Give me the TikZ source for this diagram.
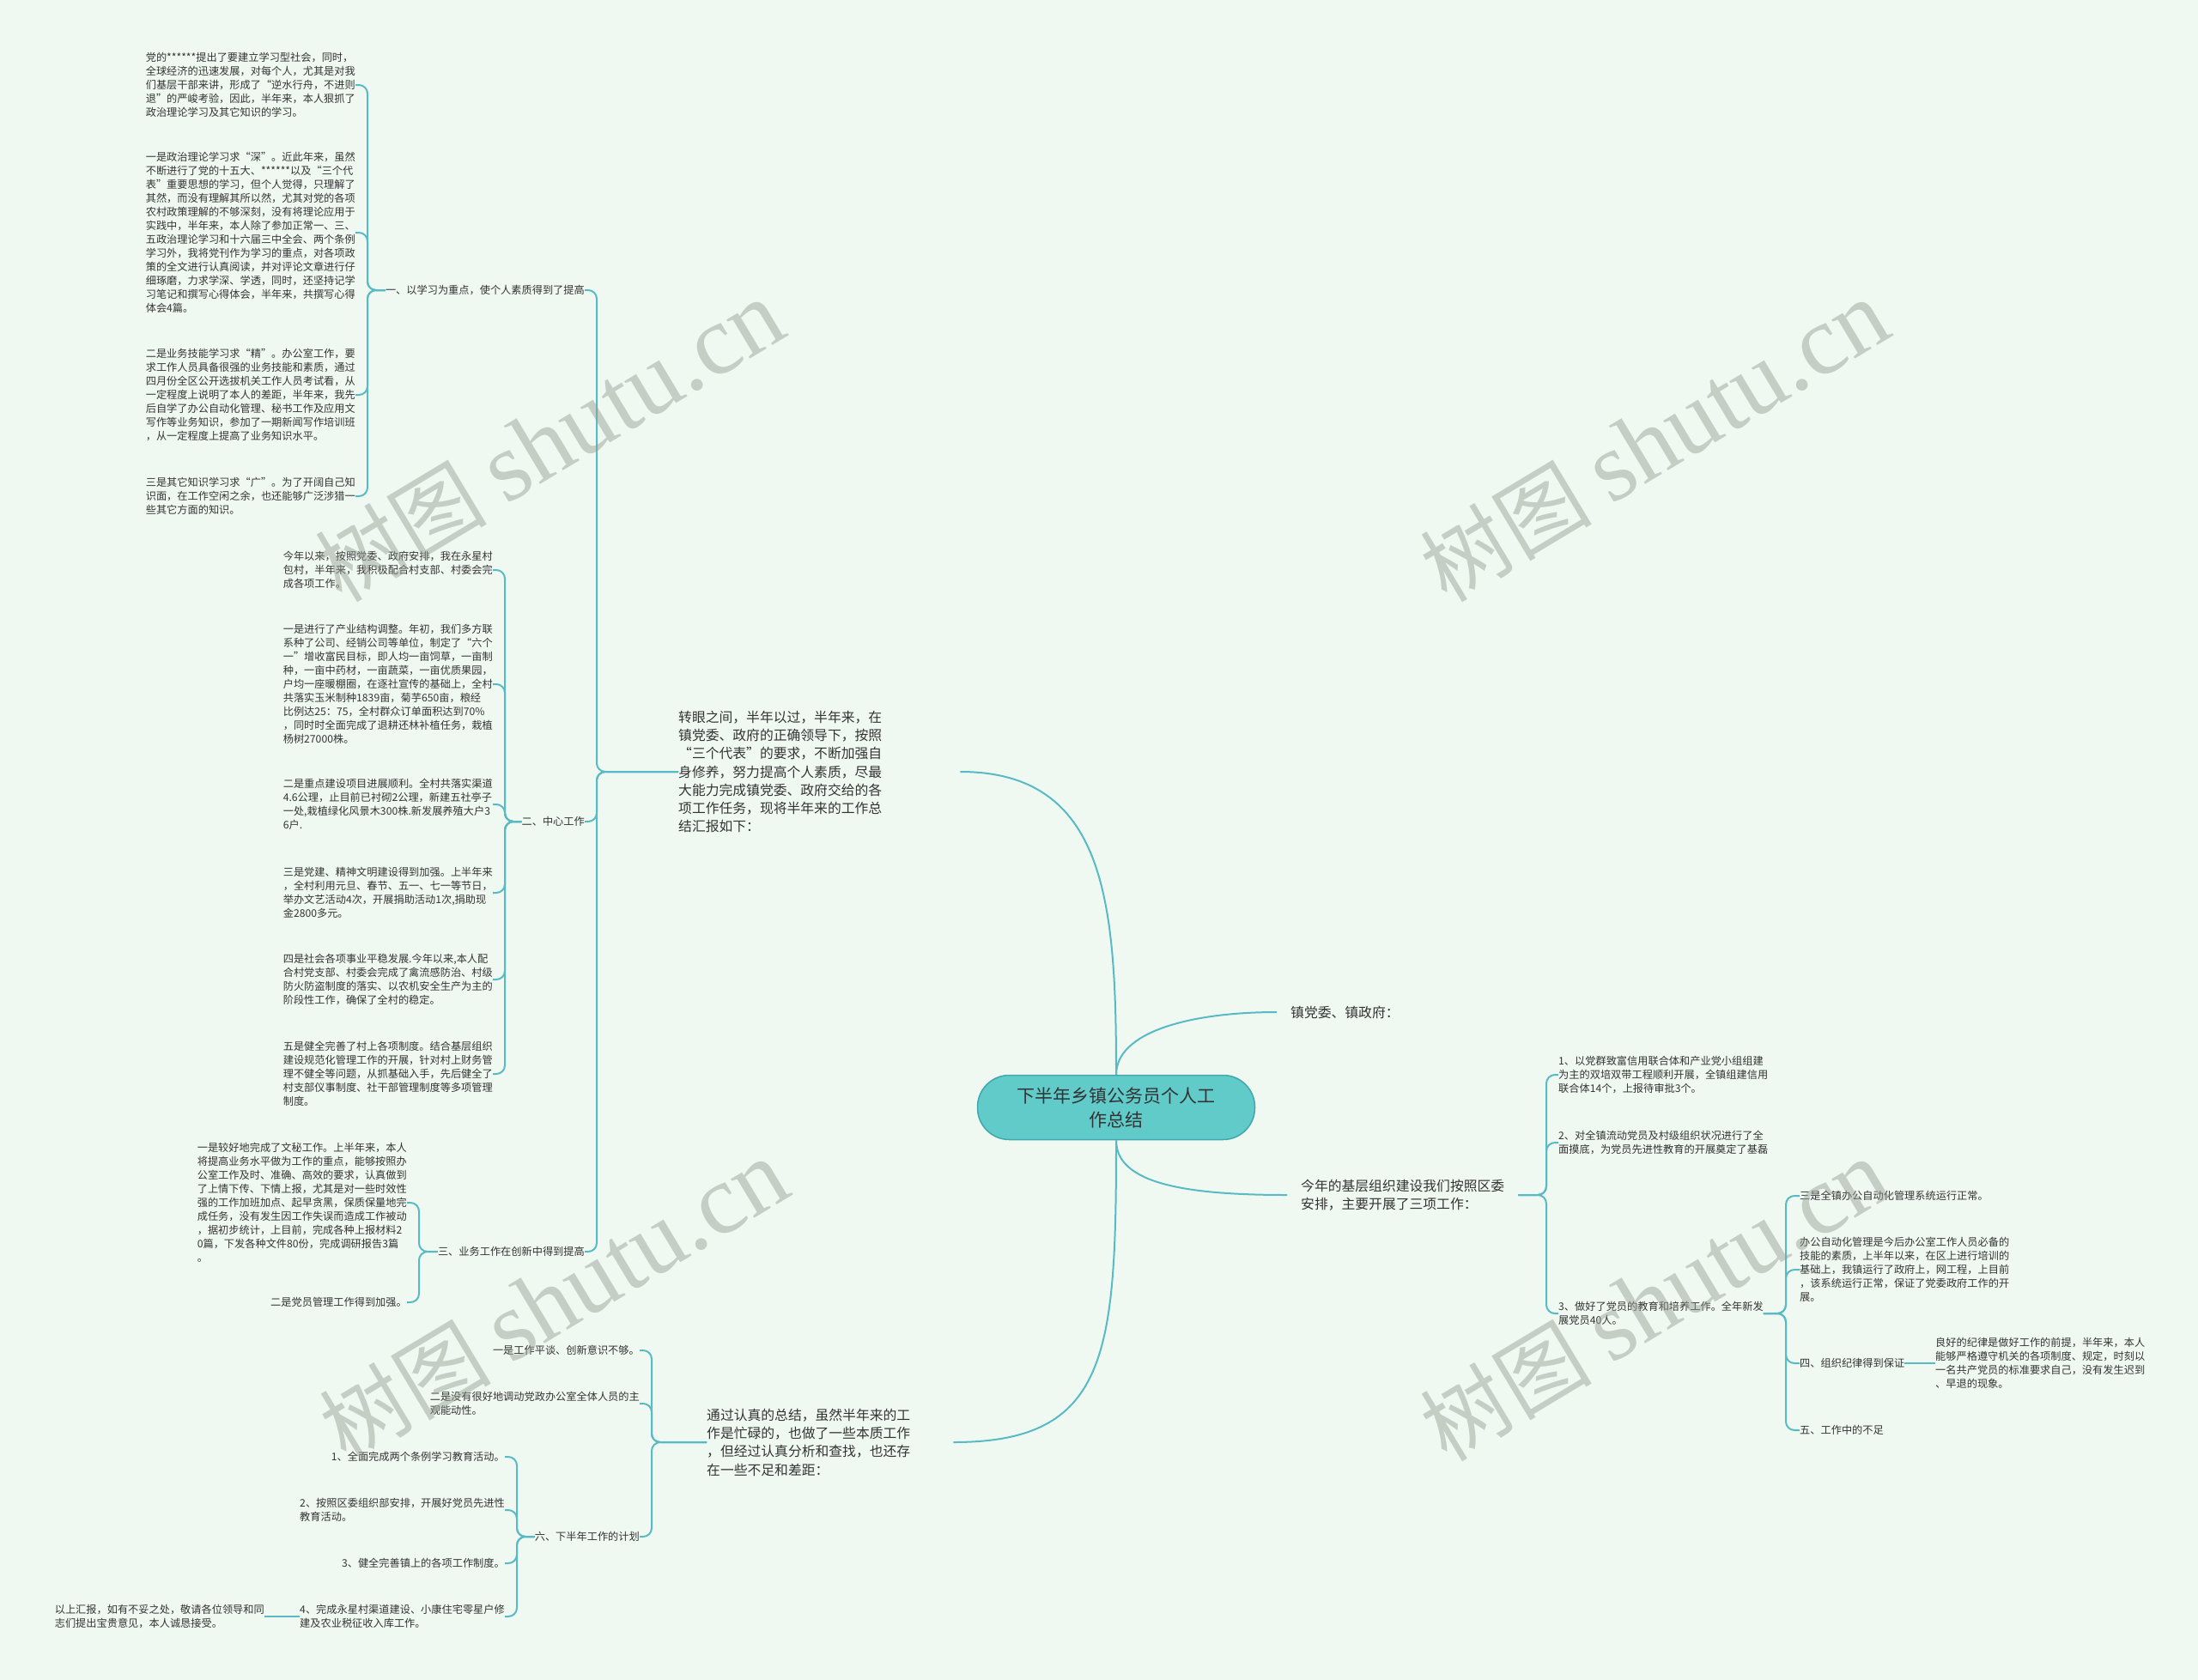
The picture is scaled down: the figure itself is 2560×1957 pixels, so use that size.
\documentclass[tikz,border=0pt]{standalone}
\usepackage{fontspec}
\setmainfont{Noto Sans CJK SC}
\newfontfamily\wmlatin{Liberation Serif}
\definecolor{bgc}{RGB}{240,249,241}
\definecolor{linkc}{RGB}{88,186,196}
\definecolor{txtc}{RGB}{51,51,51}
\definecolor{rootfill}{RGB}{97,203,202}
\definecolor{rootline}{RGB}{64,168,172}
\definecolor{wmc}{RGB}{150,160,150}

\begin{document}
\begin{tikzpicture}[x=1pt,y=-1pt,
	link/.style={draw=linkc,line width=2pt,rounded corners=10pt},
	leaf/.style={font=\fontsize{12.2}{16}\selectfont,text=txtc,inner sep=0pt,align=left},
	branch/.style={font=\fontsize{15.8}{21.3}\selectfont,text=txtc,inner sep=0pt,align=left},
	rootbox/.style={fill=rootfill,draw=rootline,line width=1.5pt,rounded corners=37pt,
		minimum width=323pt,minimum height=75pt,align=center,text=txtc,
		font=\fontsize{21}{28}\selectfont},
	wmark/.style={text=wmc,text opacity=0.48,rotate=31,inner sep=0pt}]

\fill[bgc] (0,0) rectangle (2560,1957);
\useasboundingbox (0,0) rectangle (2560,1957);

% centre
\node[rootbox] (root) at (1300,1290) {下半年乡镇公务员个人工\\作总结};

% main branches
\node[branch,anchor=west,text width=328pt] (intro) at (790,899) {转眼之间，半年以过，半年来，在\\镇党委、政府的正确领导下，按照\\“三个代表”的要求，不断加强自\\身修养，努力提高个人素质，尽最\\大能力完成镇党委、政府交给的各\\项工作任务，现将半年来的工作总\\结汇报如下：};
\node[branch,anchor=west,text width=287pt] (summ) at (823,1680) {通过认真的总结，虽然半年来的工\\作是忙碌的，也做了一些本质工作\\，但经过认真分析和查找，也还存\\在一些不足和差距：};
\node[branch,anchor=west,inner xsep=16pt] (zdw) at (1487,1179) {镇党委、镇政府：};
\node[branch,anchor=west,inner xsep=16pt] (jc) at (1499,1392) {今年的基层组织建设我们按照区委\\安排，主要开展了三项工作：};

\draw[link] (root.north) .. controls +(0,-200) and +(170,0) .. (intro.east);
\draw[link] (root.north) .. controls +(0,-50) and +(-100,0) .. (zdw.west);
\draw[link] (root.south) .. controls +(0,50) and +(-120,0) .. (jc.west);
\draw[link] (root.south) .. controls +(0,250) and +(180,0) .. (summ.east);

% left upper part
\node[leaf,anchor=east] (e1) at (681,338) {一、以学习为重点，使个人素质得到了提高};
\node[leaf,anchor=east] (e2) at (681,957) {二、中心工作};
\node[leaf,anchor=east] (e3) at (681,1458) {三、业务工作在创新中得到提高};

\node[leaf,anchor=east] (f1) at (414,99) {党的******提出了要建立学习型社会，同时，\\全球经济的迅速发展，对每个人，尤其是对我\\们基层干部来讲，形成了“逆水行舟，不进则\\退”的严峻考验，因此，半年来，本人狠抓了\\政治理论学习及其它知识的学习。};
\node[leaf,anchor=east] (f2) at (414,271) {一是政治理论学习求“深”。近此年来，虽然\\不断进行了党的十五大、******以及“三个代\\表”重要思想的学习，但个人觉得，只理解了\\其然，而没有理解其所以然，尤其对党的各项\\农村政策理解的不够深刻，没有将理论应用于\\实践中，半年来，本人除了参加正常一、三、\\五政治理论学习和十六届三中全会、两个条例\\学习外，我将党刊作为学习的重点，对各项政\\策的全文进行认真阅读，并对评论文章进行仔\\细琢磨，力求学深、学透，同时，还坚持记学\\习笔记和撰写心得体会，半年来，共撰写心得\\体会4篇。};
\node[leaf,anchor=east] (f3) at (414,460) {二是业务技能学习求“精”。办公室工作，要\\求工作人员具备很强的业务技能和素质，通过\\四月份全区公开选拔机关工作人员考试看，从\\一定程度上说明了本人的差距，半年来，我先\\后自学了办公自动化管理、秘书工作及应用文\\写作等业务知识，参加了一期新闻写作培训班\\，从一定程度上提高了业务知识水平。};
\node[leaf,anchor=east] (f4) at (414,578) {三是其它知识学习求“广”。为了开阔自己知\\识面，在工作空闲之余，也还能够广泛涉猎一\\些其它方面的知识。};

\node[leaf,anchor=east] (g1) at (574,664) {今年以来，按照党委、政府安排，我在永星村\\包村，半年来，我积极配合村支部、村委会完\\成各项工作。};
\node[leaf,anchor=east] (g2) at (574,797) {一是进行了产业结构调整。年初，我们多方联\\系种了公司、经销公司等单位，制定了“六个\\一”增收富民目标，即人均一亩饲草，一亩制\\种，一亩中药材，一亩蔬菜，一亩优质果园，\\户均一座暖棚圈，在逐社宣传的基础上，全村\\共落实玉米制种1839亩，菊芋650亩，粮经\\比例达25：75，全村群众订单面积达到70\%\\，同时时全面完成了退耕还林补植任务，栽植\\杨树27000株。};
\node[leaf,anchor=east] (g3) at (574,937) {二是重点建设项目进展顺利。全村共落实渠道\\4.6公理，止目前已衬砌2公理，新建五社亭子\\一处,栽植绿化风景木300株.新发展养殖大户3\\6户.};
\node[leaf,anchor=east] (g4) at (574,1040) {三是党建、精神文明建设得到加强。上半年来\\，全村利用元旦、春节、五一、七一等节日，\\举办文艺活动4次，开展捐助活动1次,捐助现\\金2800多元。};
\node[leaf,anchor=east] (g5) at (574,1141) {四是社会各项事业平稳发展.今年以来,本人配\\合村党支部、村委会完成了禽流感防治、村级\\防火防盗制度的落实、以农机安全生产为主的\\阶段性工作，确保了全村的稳定。};
\node[leaf,anchor=east] (g6) at (574,1251) {五是健全完善了村上各项制度。结合基层组织\\建设规范化管理工作的开展，针对村上财务管\\理不健全等问题，从抓基础入手，先后健全了\\村支部仪事制度、社干部管理制度等多项管理\\制度。};

\node[leaf,anchor=east] (h1) at (474,1401) {一是较好地完成了文秘工作。上半年来，本人\\将提高业务水平做为工作的重点，能够按照办\\公室工作及时、准确、高效的要求，认真做到\\了上情下传、下情上报，尤其是对一些时效性\\强的工作加班加点、起早贪黑，保质保量地完\\成任务，没有发生因工作失误而造成工作被动\\，据初步统计，上目前，完成各种上报材料2\\0篇，下发各种文件80份，完成调研报告3篇\\。};
\node[leaf,anchor=east] (h2) at (474,1517) {二是党员管理工作得到加强。};

\foreach \c in {e1,e2,e3}
	\draw[link] (intro.west) -| ([xshift=14pt]\c.east) -- (\c.east);
\foreach \c in {f1,f2,f3,f4}
	\draw[link] (e1.west) -| ([xshift=14pt]\c.east) -- (\c.east);
\foreach \c in {g1,g2,g3,g4,g5,g6}
	\draw[link] (e2.west) -| ([xshift=14pt]\c.east) -- (\c.east);
\foreach \c in {h1,h2}
	\draw[link] (e3.west) -| ([xshift=14pt]\c.east) -- (\c.east);

% left lower part
\node[leaf,anchor=east] (i1) at (745,1573) {一是工作平谈、创新意识不够。};
\node[leaf,anchor=east] (i2) at (745,1635) {二是没有很好地调动党政办公室全体人员的主\\观能动性。};
\node[leaf,anchor=east] (i3) at (745,1790) {六、下半年工作的计划};

\node[leaf,anchor=east] (j1) at (588,1697) {1、全面完成两个条例学习教育活动。};
\node[leaf,anchor=east] (j2) at (588,1759) {2、按照区委组织部安排，开展好党员先进性\\教育活动。};
\node[leaf,anchor=east] (j3) at (588,1821) {3、健全完善镇上的各项工作制度。};
\node[leaf,anchor=east] (j4) at (588,1883) {4、完成永星村渠道建设、小康住宅零星户修\\建及农业税征收入库工作。};
\node[leaf,anchor=east] (j4c) at (308,1883) {以上汇报，如有不妥之处，敬请各位领导和同\\志们提出宝贵意见，本人诚恳接受。};

\foreach \c in {i1,i2,i3}
	\draw[link] (summ.west) -| ([xshift=14pt]\c.east) -- (\c.east);
\foreach \c in {j1,j2,j3,j4}
	\draw[link] (i3.west) -| ([xshift=14pt]\c.east) -- (\c.east);
\draw[link] (j4.west) -- (j4c.east);

% right part
\node[leaf,anchor=west] (c1) at (1815,1252) {1、以党群致富信用联合体和产业党小组组建\\为主的双培双带工程顺利开展，全镇组建信用\\联合体14个，上报待审批3个。};
\node[leaf,anchor=west] (c2) at (1815,1331) {2、对全镇流动党员及村级组织状况进行了全\\面摸底，为党员先进性教育的开展奠定了基磊};
\node[leaf,anchor=west] (c3) at (1815,1530) {3、做好了党员的教育和培养工作。全年新发\\展党员40人。};

\node[leaf,anchor=west] (d1) at (2096,1393) {三是全镇办公自动化管理系统运行正常。};
\node[leaf,anchor=west] (d2) at (2096,1479) {办公自动化管理是今后办公室工作人员必备的\\技能的素质，上半年以来，在区上进行培训的\\基础上，我镇运行了政府上，网工程，上目前\\，该系统运行正常，保证了党委政府工作的开\\展。};
\node[leaf,anchor=west] (d3) at (2096,1588) {四、组织纪律得到保证};
\node[leaf,anchor=west] (d4) at (2096,1666) {五、工作中的不足};
\node[leaf,anchor=west] (d3c) at (2254,1588) {良好的纪律是做好工作的前提，半年来，本人\\能够严格遵守机关的各项制度、规定，时刻以\\一名共产党员的标准要求自己，没有发生迟到\\、早退的现象。};

\foreach \c in {c1,c2,c3}
	\draw[link] (jc.east) -| ([xshift=-14pt]\c.west) -- (\c.west);
\foreach \c in {d1,d2,d3,d4}
	\draw[link] (c3.east) -| ([xshift=-16pt]\c.west) -- (\c.west);
\draw[link] (d3.east) -- (d3c.west);

% watermarks
\foreach \n/\x/\y in {wa/640/514, wb/1927/514, wc/645/1515, wd/1927/1515}
	\node[wmark] (\n) at (\x,\y) {\fontsize{100}{100}\selectfont 树图 {\wmlatin\fontsize{115}{115}\selectfont shutu.cn}};

\end{tikzpicture}
\end{document}
